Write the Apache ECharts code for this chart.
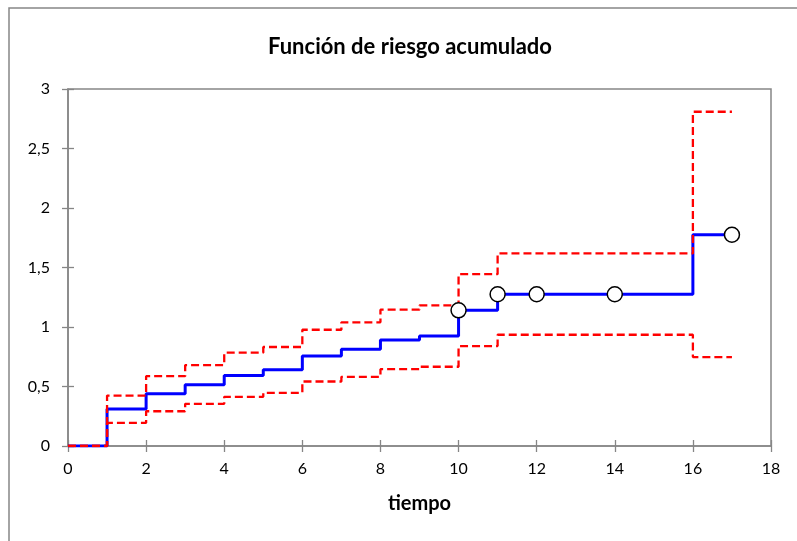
<!DOCTYPE html>
<html>
<head>
<meta charset="utf-8">
<script src="https://cdn.jsdelivr.net/npm/echarts@6/dist/echarts.min.js"></script>
<style>
html,body{margin:0;padding:0;background:#fff;}
#c{width:797px;height:541px;}
</style>
</head>
<body>
<div id="c"></div>
<script>
var titleText = "Función de riesgo acumulado";
var xName = "tiempo";
var times = [0, 1, 2, 3, 4, 5, 6, 7, 8, 9, 10, 11, 16, 17];
var hazard = [0, 0.31, 0.44, 0.514, 0.592, 0.64, 0.756, 0.812, 0.89, 0.924, 1.14, 1.275, 1.775, 1.775];
var upper = [0, 0.424, 0.587, 0.68, 0.784, 0.832, 0.977, 1.039, 1.146, 1.182, 1.444, 1.618, 2.809, 2.809];
var lower = [0, 0.194, 0.292, 0.354, 0.413, 0.447, 0.542, 0.581, 0.646, 0.666, 0.84, 0.935, 0.747, 0.747];
var censorTimes = [10, 11, 12, 14, 17];
var censorValues = [1.14, 1.275, 1.275, 1.275, 1.775];
var xTicks = [0, 18, 2];
var yTicks = [0, 3, 0.5];

function pairs(xs, ys) { return xs.map(function (x, i) { return [x, ys[i]]; }); }

var FONT = 'Lato';
var AX = '#868686';
var chart = echarts.init(document.getElementById('c'), null, {renderer: 'canvas'});
var yFmt = function (v) { return String(v).replace('.', ','); };
chart.setOption({
  animation: false,
  backgroundColor: '#ffffff',
  title: {
    text: titleText, left: 405, top: 31, textAlign: 'center',
    textStyle: {fontFamily: FONT, fontWeight: 'bold', fontSize: 22, color: '#000'}
  },
  graphic: [{
    type: 'rect', shape: {x: 9, y: 8, width: 820, height: 600},
    style: {fill: 'none', stroke: AX, lineWidth: 1.5}, silent: true, z: -1
  }],
  grid: {left: 68, right: 26, top: 89, bottom: 95, show: true, borderColor: AX, borderWidth: 1.5, backgroundColor: 'transparent'},
  xAxis: [{
    type: 'value', min: xTicks[0], max: xTicks[1], interval: xTicks[2],
    name: xName, nameLocation: 'middle', nameGap: 48,
    nameTextStyle: {fontFamily: FONT, fontWeight: 'bold', fontSize: 20, color: '#000'},
    axisLine: {show: true, onZero: false, lineStyle: {color: AX, width: 1.5}},
    axisTick: {show: true, inside: false, length: 6, lineStyle: {color: AX, width: 1.3}},
    axisLabel: {fontFamily: FONT, fontSize: 16, color: '#000', margin: 15},
    splitLine: {show: false}
  }, {
    type: 'value', min: xTicks[0], max: xTicks[1], interval: xTicks[2], position: 'bottom',
    axisLine: {show: false}, axisTick: {show: true, inside: true, length: 6, lineStyle: {color: AX, width: 1.3}},
    axisLabel: {show: false}, splitLine: {show: false}
  }],
  yAxis: [{
    type: 'value', min: yTicks[0], max: yTicks[1], interval: yTicks[2],
    axisLine: {show: true, onZero: false, lineStyle: {color: AX, width: 1.5}},
    axisTick: {show: true, inside: false, length: 6, lineStyle: {color: AX, width: 1.3}},
    axisLabel: {fontFamily: FONT, fontSize: 16, color: '#000', margin: 18, formatter: yFmt},
    splitLine: {show: false}
  }, {
    type: 'value', min: yTicks[0], max: yTicks[1], interval: yTicks[2], position: 'left',
    axisLine: {show: false}, axisTick: {show: true, inside: true, length: 6, lineStyle: {color: AX, width: 1.3}},
    axisLabel: {show: false}, splitLine: {show: false}
  }],
  series: [{
    type: 'line', step: 'end', data: pairs(times, hazard), showSymbol: false, symbol: 'none',
    lineStyle: {color: '#0000ff', width: 3}, z: 2
  }, {
    type: 'line', step: 'end', data: pairs(times, upper), showSymbol: false, symbol: 'none',
    lineStyle: {color: '#ff0000', width: 2.3, type: [8, 4]}, z: 3
  }, {
    type: 'line', step: 'end', data: pairs(times, lower), showSymbol: false, symbol: 'none',
    lineStyle: {color: '#ff0000', width: 2.3, type: [8, 4]}, z: 3
  }, {
    type: 'scatter', data: pairs(censorTimes, censorValues), symbol: 'circle', symbolSize: 15,
    itemStyle: {color: '#ffffff', borderColor: '#000000', borderWidth: 1.5, opacity: 1}, z: 5
  }]
});
</script>
</body>
</html>
